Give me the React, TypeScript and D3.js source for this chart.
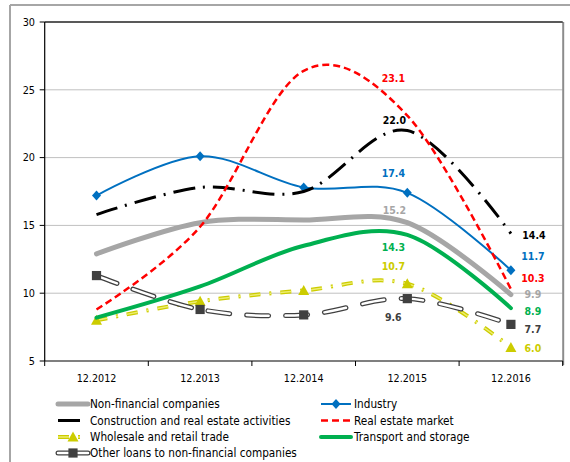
import React from "react";
import * as d3 from "d3";

// Credit growth by sector, % (December of each year)
const categories = ["12.2012", "12.2013", "12.2014", "12.2015", "12.2016"];
const nonFinancial = [12.9, 15.2, 15.4, 15.2, 9.9];
const industry = [17.2, 20.1, 17.8, 17.4, 11.7];
const construction = [15.8, 17.8, 17.5, 22.0, 14.4];
const realEstate = [8.8, 14.9, 26.4, 23.1, 10.3];
const wholesale = [8.0, 9.4, 10.2, 10.7, 6.0];
const transport = [8.2, 10.5, 13.5, 14.3, 8.9];
const otherLoans = [11.3, 8.8, 8.4, 9.6, 7.7];
const yTicks = [5, 10, 15, 20, 25, 30];

const seriesNames = [
  "Non-financial companies",
  "Industry",
  "Construction and real estate activities",
  "Real estate market",
  "Wholesale and retail trade",
  "Transport and storage",
  "Other loans to non-financial companies",
];

const W = 570;
const H = 462;
const plot = { left: 44.7, right: 562.7, top: 22, bottom: 361 };
const FONT = "'DejaVu Sans Condensed', 'DejaVu Sans', sans-serif";

const x = d3.scaleBand<string>().domain(categories).range([plot.left, plot.right]).padding(0);
const cx = (i: number) => (x(categories[i]) as number) + x.bandwidth() / 2;
const y = d3.scaleLinear().domain([5, 30]).range([plot.bottom, plot.top]);

const lineGen = d3
  .line<number>()
  .x((_, i) => cx(i))
  .y((d) => y(d))
  .curve(d3.curveCardinal.tension(0));

type Style = {
  key: string;
  values: number[];
  color: string;
  width: number;
  dash?: string;
  inner?: { color: string; width: number };
  cap?: "butt" | "round";
  marker?: "diamond" | "triangle" | "square";
  markerColor?: string;
  labelColor: string;
  // last two points carry data labels: [dx, dy] offsets in px
  labels: { i: number; dx: number; dy: number }[];
};

const series: Style[] = [
  {
    key: seriesNames[0], values: nonFinancial, color: "#A6A6A6", width: 5, cap: "round",
    labelColor: "#A6A6A6",
    labels: [{ i: 3, dx: -13, dy: -12 }, { i: 4, dx: 22, dy: 0 }],
  },
  {
    key: seriesNames[1], values: industry, color: "#0070C0", width: 2, marker: "diamond", markerColor: "#0070C0",
    labelColor: "#0070C0",
    labels: [{ i: 3, dx: -14, dy: -20 }, { i: 4, dx: 22, dy: -14 }],
  },
  {
    key: seriesNames[2], values: construction, color: "#000000", width: 3, dash: "22 8 2 8",
    labelColor: "#000000",
    labels: [{ i: 3, dx: -13, dy: -10.5 }, { i: 4, dx: 23, dy: 1.5 }],
  },
  {
    key: seriesNames[3], values: realEstate, color: "#FF0000", width: 2.5, dash: "7 4",
    labelColor: "#FF0000",
    labels: [{ i: 3, dx: -14, dy: -37.5 }, { i: 4, dx: 22, dy: -11 }],
  },
  {
    key: seriesNames[4], values: wholesale, color: "#CCCC00", width: 4, dash: "11 9 2 9", cap: "butt",
    inner: { color: "#EDED70", width: 1.5 },
    marker: "triangle", markerColor: "#CCCC00",
    labelColor: "#CCCC00",
    labels: [{ i: 3, dx: -14, dy: -17 }, { i: 4, dx: 22, dy: 1 }],
  },
  {
    key: seriesNames[5], values: transport, color: "#00B050", width: 4, cap: "round",
    labelColor: "#00B050",
    labels: [{ i: 3, dx: -14, dy: 12 }, { i: 4, dx: 22, dy: 3 }],
  },
  {
    key: seriesNames[6], values: otherLoans, color: "#404040", width: 5, dash: "22 17", cap: "round",
    inner: { color: "#FFFFFF", width: 2.5 },
    marker: "square", markerColor: "#404040",
    labelColor: "#404040",
    labels: [{ i: 3, dx: -14, dy: 19 }, { i: 4, dx: 22, dy: 4.5 }],
  },
];

function Marker({ kind, color, px, py }: { kind?: string; color?: string; px: number; py: number }) {
  if (!kind) return null;
  if (kind === "diamond")
    return <path d={`M${px},${py - 5}L${px + 4.5},${py}L${px},${py + 5}L${px - 4.5},${py}Z`} fill={color} />;
  if (kind === "triangle")
    return <path d={`M${px},${py - 5.5}L${px + 5.5},${py + 4.5}L${px - 5.5},${py + 4.5}Z`} fill={color} />;
  return <rect x={px - 4.6} y={py - 4.6} width={9.2} height={9.2} fill={color} />;
}

function StrokedPath({ s, d }: { s: Style; d: string }) {
  return (
    <g fill="none">
      <path d={d} stroke={s.color} strokeWidth={s.width} strokeDasharray={s.dash} strokeLinecap={s.cap ?? "butt"} strokeLinejoin="round" />
      {s.inner && (
        <path d={d} stroke={s.inner.color} strokeWidth={s.inner.width} strokeDasharray={s.dash} strokeLinecap={s.cap ?? "butt"} strokeLinejoin="round" />
      )}
    </g>
  );
}

// legend: two columns, four rows
const legendRows = [404, 420.5, 437, 453];
const legendCols = [
  { x1: 58, x2: 88, tx: 90 },
  { x1: 321, x2: 351, tx: 354 },
];
const legendOrder = [0, 1, 2, 3, 4, 5, 6];

export default function App() {
  return (
    <svg width={W} height={H} style={{ position: "absolute", left: 0, top: 0, background: "#fff" }} fontFamily={FONT}>
      {/* chart frame */}
      <line x1={10} y1={5} x2={W} y2={5} stroke="#A6A6A6" strokeWidth={2} />
      <line x1={10} y1={5} x2={10} y2={H} stroke="#A6A6A6" strokeWidth={2} />

      {/* gridlines */}
      {yTicks.slice(1, -1).map((t) => (
        <line key={t} x1={plot.left} x2={plot.right} y1={y(t)} y2={y(t)} stroke="#C0C0C0" strokeWidth={1} />
      ))}

      {/* plot border with shadow on the right */}
      <line x1={plot.right + 0.5} x2={plot.right + 0.5} y1={plot.top} y2={plot.bottom + 4} stroke="#8C8C8C" strokeWidth={2} />
      <line x1={plot.left} x2={plot.right} y1={plot.top} y2={plot.top} stroke="#222" strokeWidth={1.5} />
      <line x1={plot.left} x2={plot.left} y1={plot.top} y2={plot.bottom} stroke="#000" strokeWidth={1.2} />
      <line x1={plot.left} x2={plot.right} y1={plot.bottom} y2={plot.bottom} stroke="#000" strokeWidth={1.2} />

      {/* y axis */}
      {yTicks.map((t) => (
        <g key={t}>
          <line x1={plot.left - 5} x2={plot.left} y1={y(t)} y2={y(t)} stroke="#000" strokeWidth={1} />
          <text x={35} y={y(t)} dy="0.36em" textAnchor="end" fontSize={10.8} fill="#000">{t}</text>
        </g>
      ))}

      {/* x axis */}
      {[...categories.map((c) => x(c) as number), plot.right].map((v, i) => (
        <line key={i} x1={v} x2={v} y1={plot.bottom} y2={plot.bottom + 5} stroke="#000" strokeWidth={1} />
      ))}
      {categories.map((c, i) => (
        <text key={c} x={cx(i)} y={378} dy="0.36em" textAnchor="middle" fontSize={10.7} fill="#000">{c}</text>
      ))}

      {/* series lines */}
      {series.map((s) => (
        <g key={s.key}>
          <StrokedPath s={s} d={lineGen(s.values) as string} />
          {s.marker && s.values.map((v, i) => (
            <Marker key={i} kind={s.marker} color={s.markerColor} px={cx(i)} py={y(v)} />
          ))}
        </g>
      ))}

      {/* data labels */}
      {series.map((s) =>
        s.labels.map((l) => (
          <text key={s.key + l.i} x={cx(l.i) + l.dx} y={y(s.values[l.i]) + l.dy} dy="0.36em" textAnchor="middle"
            fontSize={10.5} fontWeight="bold" fill={s.labelColor}>
            {s.values[l.i].toFixed(1)}
          </text>
        ))
      )}

      {/* legend */}
      {legendOrder.map((si, k) => {
        const s = series[si];
        const col = legendCols[k % 2];
        const ly = legendRows[Math.floor(k / 2)];
        const d = `M${col.x1},${ly}L${col.x2},${ly}`;
        const mx = (col.x1 + col.x2) / 2;
        return (
          <g key={s.key}>
            <StrokedPath s={{ ...s, dash: s.key === seriesNames[6] ? undefined : s.dash }} d={d} />
            {s.marker && <Marker kind={s.marker} color={s.markerColor} px={mx} py={ly} />}
            <text x={col.tx} y={ly} dy="0.36em" fontSize={11.7} fill="#000">{s.key}</text>
          </g>
        );
      })}
    </svg>
  );
}
